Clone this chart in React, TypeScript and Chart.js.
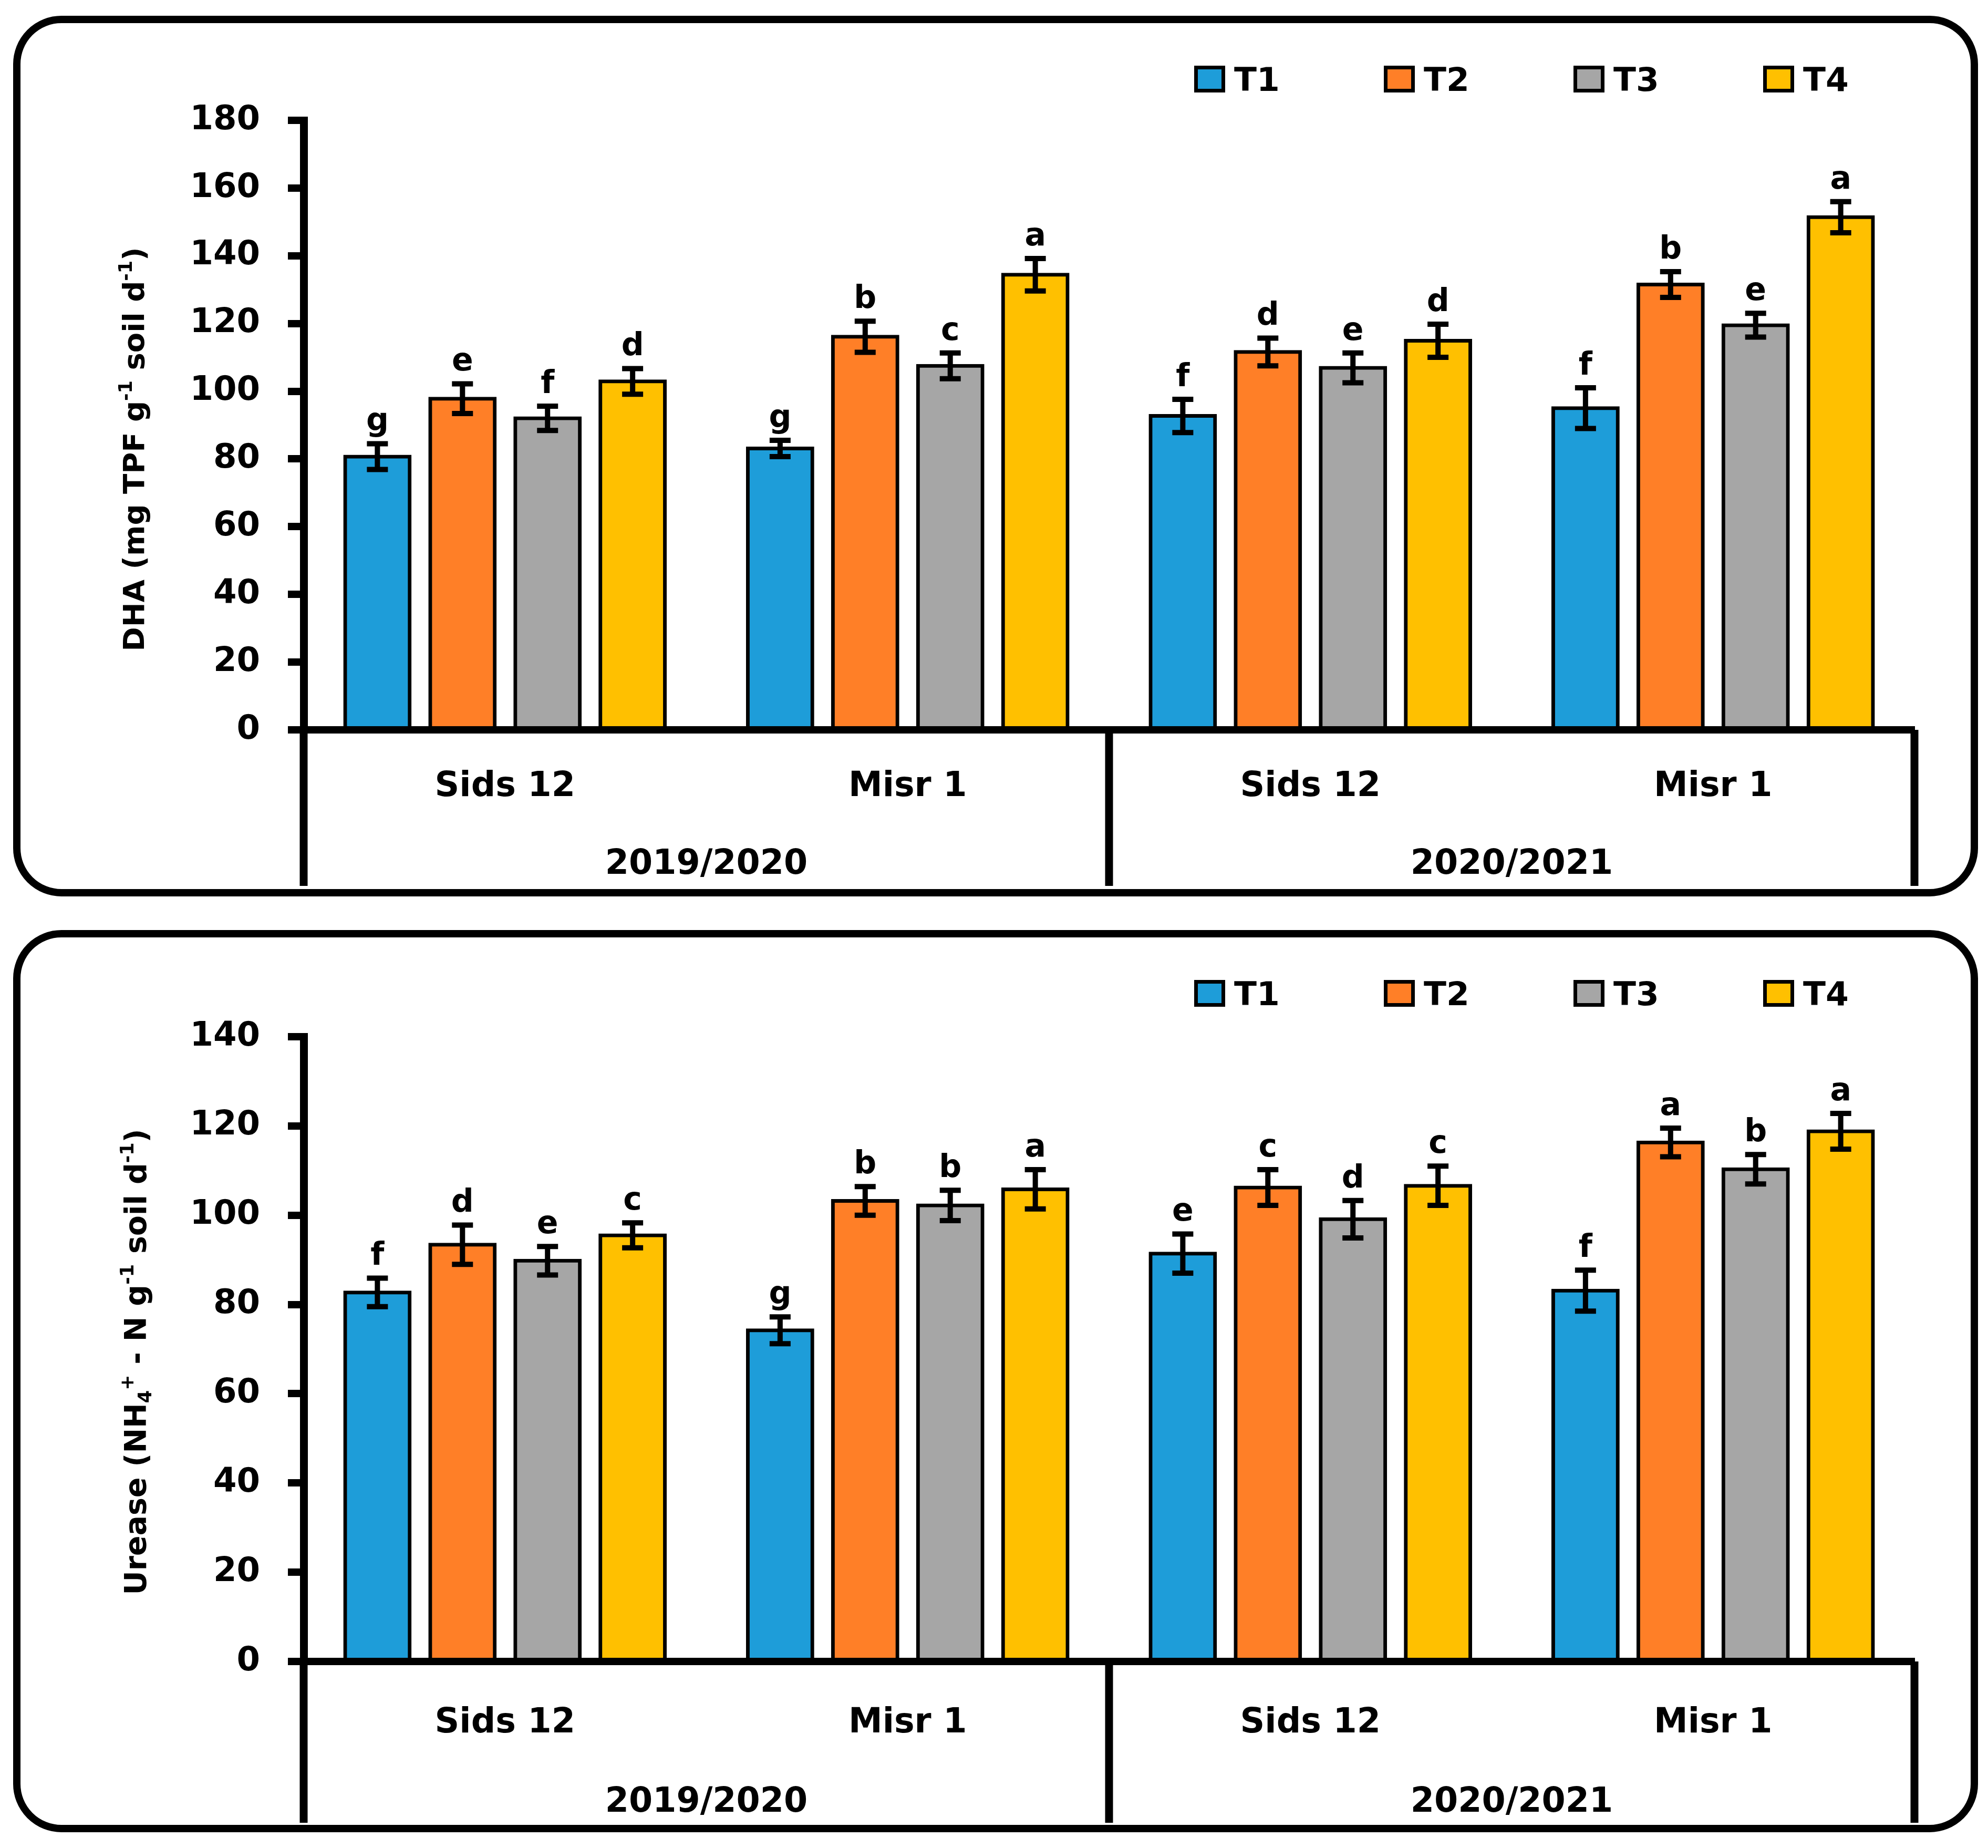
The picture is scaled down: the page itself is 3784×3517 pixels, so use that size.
import React, { useEffect, useRef } from 'react';
import { Chart, registerables } from 'chart.js';

Chart.register(...registerables);

// ---------- data ----------
const varieties = ['Sids 12', 'Misr 1', 'Sids 12', 'Misr 1'];
const seasons = ['2019/2020', '2020/2021'];
const treatments = ['T1', 'T2', 'T3', 'T4'];
const treatmentColors = ['#1E9DD9', '#FF7F27', '#A6A6A6', '#FFC000'];

const dhaTicksMax = 180;
const dhaT1 = [80.7, 83.1, 92.7, 95.0];
const dhaT2 = [97.8, 116.1, 111.6, 131.5];
const dhaT3 = [92.0, 107.5, 106.9, 119.5];
const dhaT4 = [102.9, 134.4, 114.9, 151.4];
const dhaErrT1 = [3.8, 2.4, 4.9, 6.0];
const dhaErrT2 = [4.4, 4.6, 4.1, 3.8];
const dhaErrT3 = [3.6, 3.8, 4.4, 3.5];
const dhaErrT4 = [3.8, 4.8, 4.9, 4.6];
const dhaLetT1 = ['g', 'g', 'f', 'f'];
const dhaLetT2 = ['e', 'b', 'd', 'b'];
const dhaLetT3 = ['f', 'c', 'e', 'e'];
const dhaLetT4 = ['d', 'a', 'd', 'a'];

const ureTicksMax = 140;
const ureT1 = [82.7, 74.2, 91.4, 83.1];
const ureT2 = [93.4, 103.2, 106.2, 116.3];
const ureT3 = [89.8, 102.2, 99.1, 110.3];
const ureT4 = [95.5, 105.8, 106.6, 118.8];
const ureErrT1 = [3.2, 3.0, 4.4, 4.6];
const ureErrT2 = [4.4, 3.2, 4.0, 3.2];
const ureErrT3 = [3.2, 3.4, 4.2, 3.3];
const ureErrT4 = [2.8, 4.4, 4.4, 4.0];
const ureLetT1 = ['f', 'g', 'e', 'f'];
const ureLetT2 = ['d', 'b', 'c', 'a'];
const ureLetT3 = ['e', 'b', 'd', 'b'];
const ureLetT4 = ['c', 'a', 'c', 'a'];

// title segments: 0 normal, 1 superscript, -1 subscript
const dhaTitle: [string, number][] = [
  ['DHA (mg TPF g', 0], ['-1', 1], [' soil d', 0], ['-1', 1], [')', 0],
];
const ureTitle: [string, number][] = [
  ['Urease (NH', 0], ['4', -1], ['+', 1], [' - N g', 0], ['-1', 1], [' soil d', 0], ['-1', 1], [')', 0],
];

const FAMILY = '"DejaVu Sans"';

type PanelCfg = {
  height: number;
  top: number;
  xh: number;
  max: number;
  series: number[][];
  errs: number[][];
  letters: string[][];
  title: [string, number][];
  titleX: number;
  titleY: number;
  titleSize: number;
  varietyDy: number;
  seasonDy: number;
  sepLen: number;
  box: [number, number, number, number];
};

const panels: PanelCfg[] = [
  {
    height: 1740, top: 229, xh: 351, max: dhaTicksMax,
    series: [dhaT1, dhaT2, dhaT3, dhaT4],
    errs: [dhaErrT1, dhaErrT2, dhaErrT3, dhaErrT4],
    letters: [dhaLetT1, dhaLetT2, dhaLetT3, dhaLetT4],
    title: dhaTitle, titleX: 254, titleY: 855, titleSize: 56,
    varietyDy: 102, seasonDy: 250, sepLen: 297,
    box: [32, 37, 3726, 1662],
  },
  {
    height: 1777, top: 233, xh: 355, max: ureTicksMax,
    series: [ureT1, ureT2, ureT3, ureT4],
    errs: [ureErrT1, ureErrT2, ureErrT3, ureErrT4],
    letters: [ureLetT1, ureLetT2, ureLetT3, ureLetT4],
    title: ureTitle, titleX: 257, titleY: 852, titleSize: 57,
    varietyDy: 111, seasonDy: 262, sepLen: 307,
    box: [32, 37, 3726, 1703],
  },
];

function drawRich(ctx: CanvasRenderingContext2D, segs: [string, number][], cx: number, cy: number, size: number) {
  ctx.save();
  ctx.translate(cx, cy);
  ctx.rotate(-Math.PI / 2);
  const fontFor = (m: number) => `bold ${m === 0 ? size : Math.round(size * 0.62)}px ${FAMILY}`;
  let total = 0;
  const widths = segs.map(([t, m]) => {
    ctx.font = fontFor(m);
    const w = ctx.measureText(t).width;
    total += w;
    return w;
  });
  let xx = -total / 2;
  const base = size * 0.36;
  ctx.textBaseline = 'alphabetic';
  ctx.textAlign = 'left';
  ctx.fillStyle = '#000';
  segs.forEach(([t, m], i) => {
    ctx.font = fontFor(m);
    const yy = m === 1 ? base - size * 0.42 : m === -1 ? base + size * 0.18 : base;
    ctx.fillText(t, xx, yy);
    xx += widths[i];
  });
  ctx.restore();
}

function roundRect(ctx: CanvasRenderingContext2D, x: number, y: number, w: number, h: number, r: number) {
  ctx.beginPath();
  ctx.moveTo(x + r, y);
  ctx.lineTo(x + w - r, y);
  ctx.arcTo(x + w, y, x + w, y + r, r);
  ctx.lineTo(x + w, y + h - r);
  ctx.arcTo(x + w, y + h, x + w - r, y + h, r);
  ctx.lineTo(x + r, y + h);
  ctx.arcTo(x, y + h, x, y + h - r, r);
  ctx.lineTo(x, y + r);
  ctx.arcTo(x, y, x + r, y, r);
  ctx.closePath();
}

function makeChart(canvas: HTMLCanvasElement, cfg: PanelCfg) {
  const decor = {
    id: 'decor',
    afterDatasetsDraw(chart: any) {
      const { ctx } = chart;
      const y = chart.scales.y;
      ctx.save();
      chart.data.datasets.forEach((ds: any, di: number) => {
        const meta = chart.getDatasetMeta(di);
        meta.data.forEach((bar: any, j: number) => {
          const v = ds.data[j];
          const e = cfg.errs[di][j];
          const yt = y.getPixelForValue(v + e);
          const yb = y.getPixelForValue(v - e);
          const bx = bar.x;
          ctx.strokeStyle = '#000';
          ctx.lineWidth = 10;
          ctx.lineCap = 'butt';
          ctx.beginPath();
          ctx.moveTo(bx, yt);
          ctx.lineTo(bx, yb);
          ctx.moveTo(bx - 20, yt);
          ctx.lineTo(bx + 20, yt);
          ctx.moveTo(bx - 20, yb);
          ctx.lineTo(bx + 20, yb);
          ctx.stroke();
          ctx.fillStyle = '#000';
          ctx.font = `bold 60px ${FAMILY}`;
          ctx.textAlign = 'center';
          ctx.textBaseline = 'alphabetic';
          ctx.fillText(cfg.letters[di][j], bx, yt - 25);
        });
      });
      ctx.restore();
    },
    afterDraw(chart: any) {
      const { ctx, chartArea } = chart;
      const x = chart.scales.x;
      ctx.save();
      // category labels
      ctx.fillStyle = '#000';
      ctx.textAlign = 'center';
      ctx.textBaseline = 'alphabetic';
      const ls = 65;
      ctx.font = `bold ${ls}px ${FAMILY}`;
      varieties.forEach((v, i) => {
        ctx.fillText(v, x.getPixelForValue(i), chartArea.bottom + cfg.varietyDy + ls * 0.3645);
      });
      seasons.forEach((s, k) => {
        const cx = (x.getPixelForValue(2 * k) + x.getPixelForValue(2 * k + 1)) / 2;
        ctx.fillText(s, cx, chartArea.bottom + cfg.seasonDy + ls * 0.3645);
      });
      // separators
      const mid = (x.getPixelForValue(1) + x.getPixelForValue(2)) / 2;
      ctx.strokeStyle = '#000';
      ctx.lineWidth = 15;
      ctx.lineCap = 'butt';
      ctx.beginPath();
      [chartArea.left, mid, chartArea.right].forEach((sx) => {
        ctx.moveTo(sx, chartArea.bottom);
        ctx.lineTo(sx, chartArea.bottom + cfg.sepLen);
      });
      ctx.stroke();
      // legend
      const lx0 = 2273;
      const pitch = 361;
      chart.data.datasets.forEach((ds: any, i: number) => {
        const bx = lx0 + i * pitch;
        ctx.fillStyle = ds.backgroundColor;
        ctx.fillRect(bx + 3.5, 128.5, 52, 44);
        ctx.strokeStyle = '#000';
        ctx.lineWidth = 7;
        ctx.strokeRect(bx + 3.5, 128.5, 52, 44);
        ctx.fillStyle = '#000';
        ctx.font = `bold 63px ${FAMILY}`;
        ctx.textAlign = 'left';
        ctx.textBaseline = 'alphabetic';
        ctx.fillText(ds.label, bx + 76, 150 + 63 * 0.3645);
      });
      // title
      drawRich(ctx, cfg.title, cfg.titleX, cfg.titleY, cfg.titleSize);
      // outer rounded frame
      const [fx, fy, fw, fh] = cfg.box;
      ctx.strokeStyle = '#000';
      ctx.lineWidth = 14;
      roundRect(ctx, fx, fy, fw, fh, 85);
      ctx.stroke();
      ctx.restore();
    },
  };

  return new Chart(canvas, {
    type: 'bar',
    data: {
      labels: varieties,
      datasets: treatments.map((t, i) => ({
        label: t,
        data: cfg.series[i],
        backgroundColor: treatmentColors[i],
        borderColor: '#000',
        borderWidth: 7,
        borderSkipped: 'start',
        inflateAmount: 3.5,
        categoryPercentage: 0.845,
        barPercentage: 0.759,
      })),
    },
    options: {
      responsive: false,
      animation: false,
      devicePixelRatio: 1,
      layout: { padding: { top: cfg.top, right: 140, left: 0, bottom: 0 } },
      plugins: { legend: { display: false }, tooltip: { enabled: false } },
      scales: {
        x: {
          type: 'category',
          z: 1,
          grid: { display: true, drawOnChartArea: false, drawTicks: false },
          border: { display: true, color: '#000', width: 14 },
          ticks: { display: false },
          afterFit: (s: any) => { s.height = cfg.xh; },
        },
        y: {
          min: 0,
          max: cfg.max,
          ticks: {
            stepSize: 20,
            color: '#000',
            font: { family: 'DejaVu Sans', weight: 'bold', size: 64 },
            padding: 53,
          },
          grid: {
            drawOnChartArea: false,
            drawTicks: true,
            tickLength: 30,
            tickWidth: 14,
            tickColor: '#000',
            color: '#000',
            lineWidth: 14,
          },
          border: { display: true, color: '#000', width: 15 },
          afterFit: (s: any) => { s.width = 578; },
        },
      },
    },
    plugins: [decor as any],
  } as any);
}

function Panel({ cfg }: { cfg: PanelCfg }) {
  const ref = useRef<HTMLCanvasElement>(null);
  useEffect(() => {
    if (!ref.current) return;
    const c = makeChart(ref.current, cfg);
    return () => c.destroy();
  }, [cfg]);
  return (
    <canvas
      ref={ref}
      width={3784}
      height={cfg.height}
      style={{ display: 'block', width: 3784, height: cfg.height }}
    />
  );
}

export default function App() {
  useEffect(() => {
    document.body.style.margin = '0';
    document.body.style.background = '#fff';
  }, []);
  return (
    <div style={{ width: 3784, height: 3517, background: '#fff' }}>
      {panels.map((p, i) => (
        <Panel key={i} cfg={p} />
      ))}
    </div>
  );
}
